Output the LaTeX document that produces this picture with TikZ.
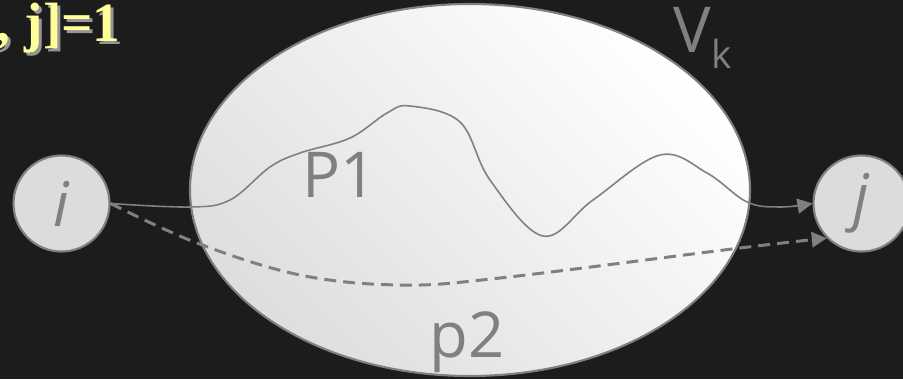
\documentclass[tikz,border=0pt]{standalone}
\usepackage{fontspec}
\setmainfont{Open Sans}
\newfontfamily\titlefont{Liberation Serif}
\usepackage{tikz}
\usetikzlibrary{arrows.meta, shadings}
\definecolor{bgdark}{RGB}{28,28,28}
\definecolor{linegray}{RGB}{128,128,128}
\definecolor{nodefill}{RGB}{220,220,220}
\definecolor{setfill}{RGB}{222,222,222}
\definecolor{titleyellow}{RGB}{255,255,153}
\definecolor{shadowgray}{RGB}{150,150,150}

\begin{document}
\begin{tikzpicture}[
    vertex/.style={circle, draw=linegray, line width=1.2pt, fill=nodefill,
      minimum size=1.92cm, inner sep=0pt, text=linegray, font=\fontsize{35}{35}\selectfont\itshape},
    biglabel/.style={text=linegray, font=\fontsize{36}{36}\selectfont, inner sep=0pt},
    tip/.style={-{Triangle[length=0.3cm, width=0.3cm]}}
  ]
  \useasboundingbox (0,0) rectangle (18.06,7.58);
  \fill[bgdark] (0,0) rectangle (18.06,7.58);
  % title (cut off at the left edge)
  \node[anchor=base east, text=shadowgray, font=\titlefont\fontsize{31.5}{31.5}\selectfont\bfseries, inner sep=0pt]
    (titleshadow) at (2.48,6.70) {[i, j]=1};
  \node[anchor=base east, text=titleyellow, font=\titlefont\fontsize{31.5}{31.5}\selectfont\bfseries, inner sep=0pt]
    (title) at (2.42,6.76) {[i, j]=1};
  % the set V_k
  \shade[left color=setfill, right color=white, shading angle=135, draw=linegray, line width=1.2pt]
    (9.4,3.78) ellipse [x radius=5.6, y radius=3.72];
  \node[biglabel, anchor=base west] (vk) at (13.46,6.54)
    {V\raisebox{-0.26em}{\fontsize{22}{22}\selectfont k}};
  \node[biglabel, anchor=base] (p1) at (6.8,3.64) {P1};
  \node[biglabel, anchor=base] (p2) at (9.34,0.44) {p2};
  % end vertices
  \node[vertex] (i) at (1.23,3.51) {i};
  \node[vertex] (j) at (17.23,3.51) {j};
  % path P1 through V_k
  \draw[tip, linegray, line width=0.9pt] plot[smooth, tension=0.6] coordinates {
    (i.east) (3.8,3.44) (4.6,3.58) (5.4,4.24) (6.0,4.52) (7.0,4.82) (7.74,5.32)
    (8.2,5.46) (9.2,5.14) (9.8,3.98) (10.86,2.86) (11.86,3.58) (13.2,4.48)
    (14.14,4.12) (14.94,3.54) (15.6,3.44) (j.west)};
  % path p2
  \draw[tip, linegray, line width=1.7pt, dash pattern=on 6.8pt off 4pt] plot[smooth, tension=0.6] coordinates {
    (i.east) (3.94,2.72) (6.0,2.08) (8.0,1.88) (10.0,2.02) (14.8,2.62) (j.south west)};
\end{tikzpicture}
\end{document}
